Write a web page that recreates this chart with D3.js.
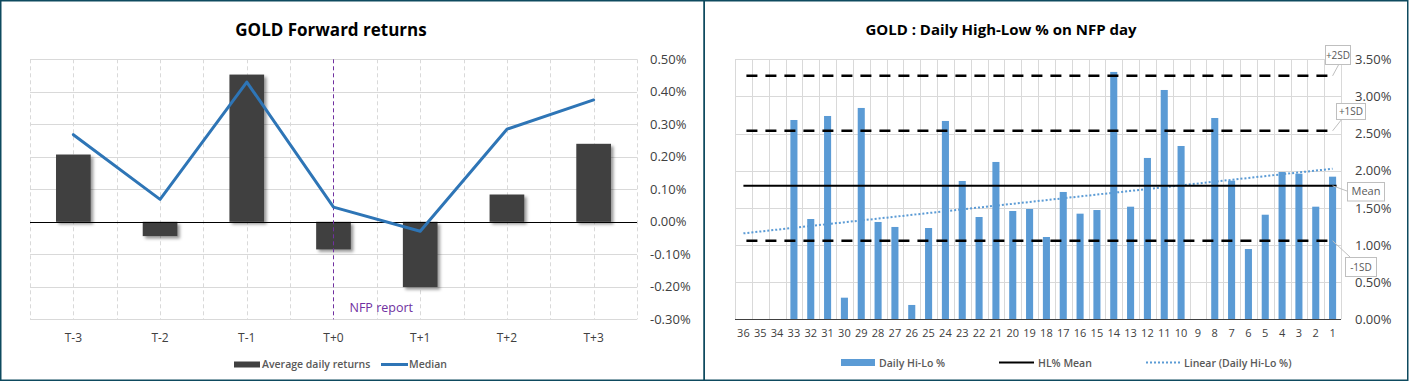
<!DOCTYPE html>
<html>
<head>
<meta charset="utf-8">
<script src="https://cdn.jsdelivr.net/npm/d3@7"></script>
<style>
  html, body { margin: 0; padding: 0; background: #fff; }
  svg { display: block; font-family: "Open Sans", sans-serif; }
</style>
</head>
<body>
<svg id="chart" width="1409" height="381"></svg>
<script>
// ---------- LEFT CHART DATA ----------
const leftCategories = ["T-3", "T-2", "T-1", "T+0", "T+1", "T+2", "T+3"];
const avgDailyReturns = [0.207, -0.044, 0.453, -0.085, -0.201, 0.084, 0.240]; // %
const medianReturns = [0.268, 0.069, 0.430, 0.045, -0.029, 0.285, 0.375];     // %
const leftTicks = [-0.3, -0.2, -0.1, 0, 0.1, 0.2, 0.3, 0.4, 0.5];
const nfpCategory = "T+0";

// ---------- RIGHT CHART DATA ----------
const rightCategories = ["36","35","34","33","32","31","30","29","28","27","26","25","24","23","22","21","20","19","18","17","16","15","14","13","12","11","10","9","8","7","6","5","4","3","2","1"];
const dailyHiLo = [null, null, null, 2.683, 1.350, 2.737, 0.291, 2.845, 1.310, 1.243, 0.193, 1.229, 2.670, 1.862, 1.377, 2.118, 1.458, 1.485, 1.108, 1.714, 1.422, 1.471, 3.330, 1.516, 2.172, 3.087, 2.333, null, 2.710, 1.866, 0.946, 1.408, 1.983, 1.960, 1.516, 1.920];
const rightTicks = [0, 0.5, 1.0, 1.5, 2.0, 2.5, 3.0, 3.5];
const hlMean = 1.797;
const sdLevels = [3.277, 2.537, 1.057];          // +2SD, +1SD, -1SD
const sdLabels = ["+2SD", "+1SD", "-1SD"];
const trendEnds = [1.157, 2.027];                // linear trend at first & last category

// ---------- SETUP ----------
const svg = d3.select("#chart");
const border = "#0e4a5f";
const grid = "#d9d9d9";
const tickColor = "#404040";
const legendColor = "#595959";
const fmt = d => d.toFixed(2) + "%";

const defs = svg.append("defs");
const f = defs.append("filter").attr("id", "shadow").attr("x", "-30%").attr("y", "-30%").attr("width", "160%").attr("height", "160%");
f.append("feDropShadow").attr("dx", 2.5).attr("dy", 2.5).attr("stdDeviation", 1.8)
  .attr("flood-color", "#000").attr("flood-opacity", 0.4);

// ================= LEFT CHART =================
const xL = d3.scaleBand().domain(leftCategories).range([30, 637]);
const yL = d3.scaleLinear().domain([-0.3, 0.5]).range([319.3, 59.3]);
const L = svg.append("g");
const nfpX = xL(nfpCategory) + xL.bandwidth() / 2;

// horizontal gridlines
L.append("g").selectAll("line").data(leftTicks).join("line")
  .attr("x1", xL.range()[0]).attr("x2", xL.range()[1])
  .attr("y1", d => Math.round(yL(d)) + 0.5).attr("y2", d => Math.round(yL(d)) + 0.5)
  .attr("stroke", grid).attr("stroke-width", 1);

// vertical dashed gridlines (boundaries + centers)
const vL = [];
leftCategories.forEach(c => { vL.push(xL(c)); if (c !== nfpCategory) vL.push(xL(c) + xL.bandwidth() / 2); });
vL.push(xL.range()[1]);
L.append("g").selectAll("line").data(vL).join("line")
  .attr("x1", d => Math.round(d) + 0.5).attr("x2", d => Math.round(d) + 0.5)
  .attr("y1", yL(0.5)).attr("y2", yL(-0.3))
  .attr("stroke", grid).attr("stroke-width", 1).attr("stroke-dasharray", "4,3");

// bars
const bwL = xL.bandwidth() * 0.40;
L.append("g").attr("filter", "url(#shadow)").selectAll("rect").data(avgDailyReturns).join("rect")
  .attr("x", (d, i) => xL(leftCategories[i]) + xL.bandwidth() / 2 - bwL / 2)
  .attr("y", d => yL(Math.max(0, d)))
  .attr("width", bwL)
  .attr("height", d => Math.abs(yL(d) - yL(0)))
  .attr("fill", "#404040");

// zero line
L.append("line").attr("x1", xL.range()[0]).attr("x2", xL.range()[1])
  .attr("y1", Math.round(yL(0)) + 0.5).attr("y2", Math.round(yL(0)) + 0.5)
  .attr("stroke", "#000").attr("stroke-width", 1);

// NFP marker
L.append("line").attr("x1", Math.round(nfpX) + 0.5).attr("x2", Math.round(nfpX) + 0.5).attr("y1", yL(0.5)).attr("y2", yL(-0.3))
  .attr("stroke", "#7030a0").attr("stroke-width", 1).attr("stroke-dasharray", "4,3");
L.append("text").attr("x", nfpX + 16).attr("y", 311.5).text("NFP report")
  .attr("fill", "#7030a0").attr("font-size", 12.5);

// median line
const lineL = d3.line().x((d, i) => xL(leftCategories[i]) + xL.bandwidth() / 2).y(d => yL(d));
L.append("path").datum(medianReturns).attr("d", lineL)
  .attr("fill", "none").attr("stroke", "#2e75b6").attr("stroke-width", 3)
  .attr("stroke-linejoin", "round").attr("stroke-linecap", "round");

// axes
const axL = L.append("g").attr("transform", "translate(650,0)")
  .call(d3.axisRight(yL).tickValues(leftTicks).tickSize(0).tickPadding(0).tickFormat(fmt));
axL.select(".domain").remove();
axL.selectAll("text").attr("font-size", 13).attr("font-family", "Open Sans").attr("fill", tickColor);

const axLx = L.append("g").attr("transform", "translate(0,319.3)")
  .call(d3.axisBottom(xL).tickSize(0).tickPadding(14));
axLx.select(".domain").remove();
axLx.selectAll("text").attr("font-size", 12).attr("font-family", "Open Sans").attr("fill", tickColor);

// title
L.append("text").attr("x", 331).attr("y", 36).attr("text-anchor", "middle")
  .attr("font-size", 17).attr("font-weight", "bold").attr("fill", "#000").text("GOLD Forward returns");

// legend
const lgL = L.append("g").attr("font-size", 10.5).attr("font-weight", 600).attr("fill", legendColor);
lgL.append("rect").attr("x", 234).attr("y", 361.5).attr("width", 26).attr("height", 6).attr("fill", "#404040");
lgL.append("text").attr("x", 262).attr("y", 368).text("Average daily returns");
lgL.append("line").attr("x1", 381).attr("x2", 408).attr("y1", 364.5).attr("y2", 364.5)
  .attr("stroke", "#2e75b6").attr("stroke-width", 3);
lgL.append("text").attr("x", 409).attr("y", 368).text("Median");

// ================= RIGHT CHART =================
const xR = d3.scaleBand().domain(rightCategories).range([735, 1341]);
const yR = d3.scaleLinear().domain([0, 3.5]).range([319.3, 59.3]);
const R = svg.append("g");
const cR = c => xR(c) + xR.bandwidth() / 2;

R.append("g").selectAll("line").data(rightTicks.slice(1)).join("line")
  .attr("x1", xR.range()[0]).attr("x2", xR.range()[1])
  .attr("y1", d => Math.round(yR(d)) + 0.5).attr("y2", d => Math.round(yR(d)) + 0.5)
  .attr("stroke", grid).attr("stroke-width", 1);
const vR = rightCategories.map(c => xR(c)).concat([xR.range()[1]]);
R.append("g").selectAll("line").data(vR).join("line")
  .attr("x1", d => Math.round(d) + 0.5).attr("x2", d => Math.round(d) + 0.5)
  .attr("y1", yR(3.5)).attr("y2", yR(0))
  .attr("stroke", grid).attr("stroke-width", 1);

// bars
const bwR = xR.bandwidth() * 0.42;
R.append("g").selectAll("rect").data(dailyHiLo.map((v, i) => ({ c: rightCategories[i], v })).filter(d => d.v != null))
  .join("rect")
  .attr("x", d => cR(d.c) - bwR / 2).attr("y", d => yR(d.v))
  .attr("width", bwR).attr("height", d => yR(0) - yR(d.v))
  .attr("fill", "#5b9bd5");

// baseline
R.append("line").attr("x1", xR.range()[0]).attr("x2", xR.range()[1])
  .attr("y1", Math.round(yR(0)) + 0.5).attr("y2", Math.round(yR(0)) + 0.5)
  .attr("stroke", "#404040").attr("stroke-width", 1);

const firstC = rightCategories[0], lastC = rightCategories[rightCategories.length - 1];

// trendline
R.append("line").attr("x1", cR(firstC)).attr("x2", cR(lastC))
  .attr("y1", yR(trendEnds[0])).attr("y2", yR(trendEnds[1]))
  .attr("stroke", "#5b9bd5").attr("stroke-width", 2).attr("stroke-dasharray", "2,2");

// SD lines
R.append("g").selectAll("line").data(sdLevels).join("line")
  .attr("x1", cR(firstC)).attr("x2", cR(lastC))
  .attr("y1", d => yR(d)).attr("y2", d => yR(d))
  .attr("stroke", "#000").attr("stroke-width", 2.5)
  .attr("stroke-dasharray", "11,8").attr("stroke-dashoffset", 16);

// mean line
R.append("line").attr("x1", cR(firstC)).attr("x2", cR(lastC) + 4)
  .attr("y1", yR(hlMean)).attr("y2", yR(hlMean))
  .attr("stroke", "#000").attr("stroke-width", 2);

// callouts
const callouts = [
  { t: sdLabels[0], v: sdLevels[0], bx: 1325, by: 45, bw: 25, bh: 19, ax: 1339, ay: 64 },
  { t: sdLabels[1], v: sdLevels[1], bx: 1336, by: 103, bw: 29, bh: 16, ax: 1342, ay: 119 },
  { t: "Mean", v: hlMean, bx: 1347, by: 182, bw: 37, bh: 18.5, ax: 1347, ay: 191 },
  { t: sdLabels[2], v: sdLevels[2], bx: 1345, by: 257, bw: 31, bh: 19, ax: 1350, ay: 257 }
];
const co = R.append("g");
callouts.forEach(d => {
  co.append("line").attr("x1", cR(lastC)).attr("y1", yR(d.v)).attr("x2", d.ax).attr("y2", d.ay)
    .attr("stroke", "#bfbfbf").attr("stroke-width", 1);
  co.append("rect").attr("x", d.bx + 0.5).attr("y", d.by + 0.5).attr("width", d.bw).attr("height", d.bh)
    .attr("fill", "#fff").attr("stroke", "#bfbfbf").attr("stroke-width", 1);
  co.append("text").attr("x", d.bx + d.bw / 2 + 0.5).attr("y", d.by + d.bh / 2 + 4)
    .attr("text-anchor", "middle").attr("font-size", d.t === "Mean" ? 11 : 10)
    .attr("fill", legendColor).text(d.t);
});

// axes
const axR = R.append("g").attr("transform", "translate(1355,0)")
  .call(d3.axisRight(yR).tickValues(rightTicks).tickSize(0).tickPadding(0).tickFormat(fmt));
axR.select(".domain").remove();
axR.selectAll("text").attr("font-size", 13).attr("font-family", "Open Sans").attr("fill", tickColor);

const axRx = R.append("g").attr("transform", "translate(0,319.3)")
  .call(d3.axisBottom(xR).tickSize(0).tickPadding(10));
axRx.select(".domain").remove();
axRx.selectAll("text").attr("font-size", 11).attr("font-family", "Open Sans").attr("fill", tickColor);

// title
R.append("text").attr("x", 1001).attr("y", 35).attr("text-anchor", "middle")
  .attr("font-size", 15).attr("font-weight", "bold").attr("fill", "#000").text("GOLD : Daily High-Low % on NFP day");

// legend
const lgR = R.append("g").attr("font-size", 10.5).attr("font-weight", 600).attr("fill", legendColor);
lgR.append("rect").attr("x", 841).attr("y", 359).attr("width", 34).attr("height", 7).attr("fill", "#5b9bd5");
lgR.append("text").attr("x", 879).attr("y", 366.5).text("Daily Hi-Lo %");
lgR.append("line").attr("x1", 999).attr("x2", 1034).attr("y1", 362.5).attr("y2", 362.5)
  .attr("stroke", "#000").attr("stroke-width", 2);
lgR.append("text").attr("x", 1038).attr("y", 366.5).text("HL% Mean");
lgR.append("line").attr("x1", 1146).attr("x2", 1180).attr("y1", 362.5).attr("y2", 362.5)
  .attr("stroke", "#5b9bd5").attr("stroke-width", 2).attr("stroke-dasharray", "2,2");
lgR.append("text").attr("x", 1184).attr("y", 366.5).text("Linear (Daily Hi-Lo %)");

// ================= BORDERS =================
svg.append("rect").attr("x", 0.75).attr("y", 0.75).attr("width", 703.5).attr("height", 379.5)
  .attr("fill", "none").attr("stroke", border).attr("stroke-width", 1.5);
svg.append("rect").attr("x", 704.25).attr("y", 0.75).attr("width", 703.5).attr("height", 379.5)
  .attr("fill", "none").attr("stroke", border).attr("stroke-width", 1.5);
</script>
</body>
</html>
